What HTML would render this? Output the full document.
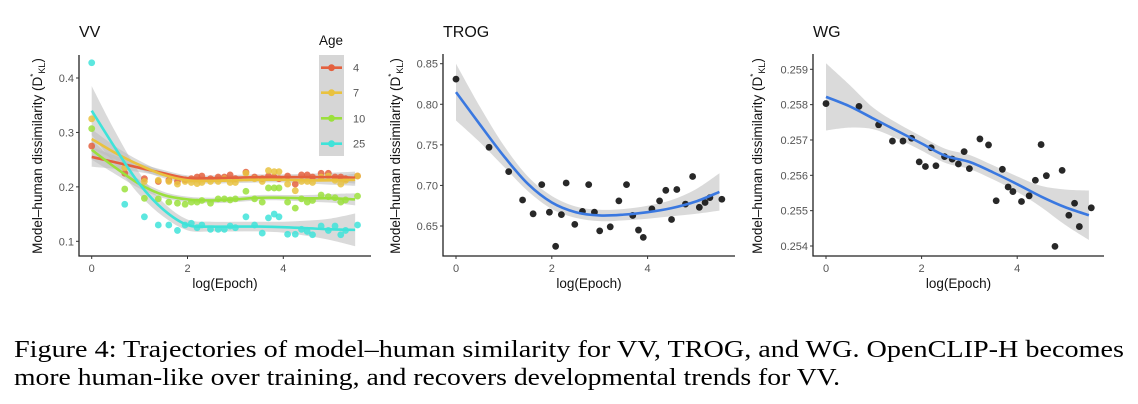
<!DOCTYPE html>
<html><head><meta charset="utf-8"><style>
html,body{margin:0;padding:0;background:#fff;}
svg{display:block;font-family:"Liberation Sans",sans-serif;}
.tick{font-size:11px;fill:#555;}
.ttl{font-size:16px;fill:#111;}
.axt{font-size:13.5px;fill:#111;}
</style></head><body>
<svg id="fig" width="1138" height="404" viewBox="0 0 1138 404">
<g id="p1"></g>
<g id="p2"></g>
<g id="p3"></g>
<text id="cap1" x="14" y="357" font-family="Liberation Serif, serif" font-size="24" textLength="1110" lengthAdjust="spacingAndGlyphs">Figure 4: Trajectories of model–human similarity for VV, TROG, and WG. OpenCLIP-H becomes</text>
<text id="cap2" x="14" y="385" font-family="Liberation Serif, serif" font-size="24" textLength="826" lengthAdjust="spacingAndGlyphs">more human-like over training, and recovers developmental trends for VV.</text>
</svg>
<script>
const NS="http://www.w3.org/2000/svg";
// shared x grid (log epoch)
const xs=[0,0.69,1.10,1.39,1.61,1.79,1.95,2.08,2.20,2.30,2.48,2.64,2.77,2.89,3.00,3.22,3.40,3.56,3.69,3.81,3.91,4.09,4.25,4.38,4.50,4.61,4.79,4.94,5.08,5.20,5.30,5.55];
const fitX=[0,0.5,1,1.5,2,2.5,3,3.5,4,4.5,5,5.5];
// VV
const vvAges=["4","7","10","25"];
const vvColors=["#e4603e","#e9c23f","#9be03c","#3fe3d9"];
const vv4=[0.275,0.225,0.215,0.210,0.212,0.210,0.213,0.215,0.218,0.220,0.215,0.218,0.218,0.222,0.215,0.227,0.218,0.215,0.220,0.218,0.215,0.220,0.205,0.222,0.222,0.218,0.225,0.225,0.218,0.218,0.215,0.220];
const vv7=[0.325,0.235,0.210,0.212,0.210,0.205,0.210,0.208,0.206,0.208,0.210,0.210,0.215,0.208,0.208,0.225,0.215,0.210,0.230,0.228,0.228,0.205,0.193,0.210,0.210,0.208,0.218,0.220,0.212,0.205,0.212,0.220];
const vv10=[0.307,0.196,0.179,0.178,0.172,0.170,0.168,0.172,0.172,0.175,0.170,0.178,0.178,0.176,0.178,0.192,0.178,0.172,0.198,0.198,0.198,0.172,0.161,0.178,0.172,0.175,0.185,0.182,0.180,0.172,0.176,0.183];
const vv25=[0.428,0.168,0.145,0.130,0.130,0.120,0.130,0.133,0.125,0.130,0.122,0.122,0.122,0.128,0.125,0.145,0.130,0.115,0.143,0.150,0.145,0.113,0.113,0.122,0.118,0.112,0.128,0.120,0.128,0.112,0.120,0.130];
const vvFit4=[0.255,0.245,0.235,0.225,0.216,0.216,0.217,0.218,0.218,0.218,0.218,0.217];
const vvFit7=[0.288,0.262,0.240,0.222,0.212,0.211,0.212,0.213,0.213,0.212,0.212,0.213];
const vvFit10=[0.268,0.235,0.205,0.185,0.177,0.175,0.177,0.180,0.180,0.179,0.179,0.177];
const vvFit25=[0.340,0.270,0.205,0.158,0.130,0.127,0.127,0.127,0.126,0.124,0.122,0.121];
const vvSe=[0.018,0.012,0.008,0.006,0.005,0.005,0.005,0.005,0.005,0.006,0.008,0.011];
const vvSe25=[0.045,0.03,0.02,0.013,0.01,0.009,0.009,0.009,0.01,0.014,0.02,0.03];
const vvTicksY=[0.1,0.2,0.3,0.4];
// TROG
const trogY=[0.831,0.747,0.717,0.682,0.665,0.701,0.667,0.625,0.664,0.703,0.652,0.668,0.701,0.667,0.644,0.649,0.681,0.701,0.663,0.645,0.636,0.671,0.681,0.694,0.658,0.695,0.677,0.711,0.673,0.679,0.685,0.683];
const trogFit=[0.815,0.775,0.736,0.702,0.679,0.667,0.663,0.664,0.667,0.672,0.680,0.692];
const trogSe=[0.035,0.022,0.013,0.009,0.008,0.007,0.007,0.007,0.008,0.010,0.015,0.023];
const trogTicksY=[0.65,0.70,0.75,0.80,0.85];
// WG
const wgY=[0.25803,0.25795,0.25743,0.25697,0.25697,0.25705,0.25638,0.25625,0.25678,0.25627,0.25653,0.25646,0.25632,0.25667,0.25619,0.25703,0.25686,0.25528,0.25617,0.25567,0.25554,0.25526,0.25542,0.25586,0.25687,0.25599,0.25399,0.25614,0.25487,0.25521,0.25455,0.25508];
const wgFit=[0.25822,0.25795,0.25760,0.25725,0.25690,0.25655,0.25638,0.25608,0.25575,0.25540,0.25510,0.25487];
const wgSe=[0.00095,0.0006,0.0003,0.00022,0.0002,0.0002,0.0002,0.0002,0.00022,0.0003,0.0005,0.0007];
const wgTicksY=[0.254,0.255,0.256,0.257,0.258,0.259];
const ticksX=[0,2,4];

function el(tag,attrs,parent){const e=document.createElementNS(NS,tag);for(const k in attrs)e.setAttribute(k,attrs[k]);parent.appendChild(e);return e;}
function smooth(pts){let d="M"+pts[0][0]+","+pts[0][1];for(let i=0;i<pts.length-1;i++){const p0=pts[Math.max(0,i-1)],p1=pts[i],p2=pts[i+1],p3=pts[Math.min(pts.length-1,i+2)];d+=" C"+(p1[0]+(p2[0]-p0[0])/6)+","+(p1[1]+(p2[1]-p0[1])/6)+" "+(p2[0]-(p3[0]-p1[0])/6)+","+(p2[1]-(p3[1]-p1[1])/6)+" "+p2[0]+","+p2[1];}return d;}
function band(fx,fit,se,X,Y){const up=fx.map((x,i)=>[X(x),Y(fit[i]+se[i])]);const lo=fx.map((x,i)=>[X(x),Y(fit[i]-se[i])]).reverse();return smooth(up)+" L"+smooth(lo).slice(1)+" Z";}

function panel(g,cfg){
  const X=v=>cfg.x0+v*cfg.ux;
  const Y=v=>cfg.yA+(v-cfg.vA)*(cfg.yB-cfg.yA)/(cfg.vB-cfg.vA);
  const t=el("text",{x:cfg.axX,y:37,class:"ttl"},g);t.textContent=cfg.title;
  
  
  const ax=el("path",{d:`M${cfg.axX},${cfg.top} V256 H${cfg.right}`,stroke:"#222","stroke-width":1.3,fill:"none"},g);
  
  
  cfg.ticksY.forEach(v=>{
    const yy=Y(v);
    el("line",{x1:cfg.axX-3,x2:cfg.axX,y1:yy,y2:yy,stroke:"#333"},g);
    const tl=el("text",{x:cfg.axX-5,y:yy+4,class:"tick","text-anchor":"end"},g);
    tl.textContent=cfg.fmt(v);
    
    
  });
  ticksX.forEach(v=>{
    const xx=X(v);
    el("line",{x1:xx,x2:xx,y1:256,y2:259,stroke:"#333"},g);
    const tl=el("text",{x:xx,y:272,class:"tick","text-anchor":"middle"},g);
    tl.textContent=v;
    
    
  });
  const xt=el("text",{x:(cfg.axX+cfg.right)/2,y:288,class:"axt","text-anchor":"middle"},g);
  xt.textContent="log(Epoch)";
  
  
  const yt=el("text",{transform:`translate(${cfg.ytX},156) rotate(-90)`,class:"axt","text-anchor":"middle"},g);
  yt.innerHTML='Model–human dissimilarity (D<tspan dy="-6" font-size="8">*</tspan><tspan dy="9" font-size="9">KL</tspan><tspan dy="-3">)</tspan>';
  
  
  cfg.series.forEach(s=>{
    const b=el("path",{d:band(fitX,s.fit,s.se,X,Y),fill:"#bbb","fill-opacity":0.55},g);
    
    
  });
  cfg.series.forEach(s=>{
    s.ys.forEach((v,i)=>{
      const c=el("circle",{cx:X(xs[i]),cy:Y(v),r:3.4,fill:s.pt,"fill-opacity":s.op},g);
      
      
    });
  });
  cfg.series.forEach(s=>{
    const l=el("path",{d:smooth(fitX.map((x,i)=>[X(x),Y(s.fit[i])])),stroke:s.line,"stroke-width":2.6,fill:"none"},g);
    
    
  });
}
panel(document.getElementById("p1"),{title:"VV",axX:79,top:55,right:371,x0:91.7,ux:47.9,yA:78,vA:0.4,yB:241.3,vB:0.1,ticksY:vvTicksY,fmt:v=>v.toFixed(1),ytX:42,
 series:[{ys:vv4,fit:vvFit4,se:vvSe,pt:vvColors[0],line:vvColors[0],op:0.85},{ys:vv7,fit:vvFit7,se:vvSe,pt:vvColors[1],line:vvColors[1],op:0.85},{ys:vv10,fit:vvFit10,se:vvSe,pt:vvColors[2],line:vvColors[2],op:0.85},{ys:vv25,fit:vvFit25,se:vvSe25,pt:vvColors[3],line:vvColors[3],op:0.85}]});
panel(document.getElementById("p2"),{title:"TROG",axX:443,top:54,right:735,x0:456,ux:47.9,yA:63.7,vA:0.85,yB:226,vB:0.65,ticksY:trogTicksY,fmt:v=>v.toFixed(2),ytX:400,
 series:[{ys:trogY,fit:trogFit,se:trogSe,pt:"#111",line:"#3a78e0",op:0.9}]});
panel(document.getElementById("p3"),{title:"WG",axX:813,top:54,right:1104,x0:826,ux:47.8,yA:69.3,vA:0.259,yB:246,vB:0.254,ticksY:wgTicksY,fmt:v=>v.toFixed(3),ytX:762,
 series:[{ys:wgY,fit:wgFit,se:wgSe,pt:"#111",line:"#3a78e0",op:0.9}]});
// legend
const p1=document.getElementById("p1");
const lt=el("text",{x:319,y:45,class:"axt"},p1);lt.textContent="Age";


const lb=el("rect",{x:319,y:55,width:25,height:101,fill:"#d6d6d6"},p1);


const legY=[67.7,92.7,118.3,143.7];
vvAges.forEach((a,i)=>{
  const g=el("g",{},p1);
  
  
  el("line",{x1:321,x2:342,y1:legY[i],y2:legY[i],stroke:vvColors[i],"stroke-width":2.6},g);
  el("circle",{cx:331.5,cy:legY[i],r:3.4,fill:vvColors[i]},g);
  const t=el("text",{x:353,y:legY[i]+4,class:"tick",fill:"#222"},g);t.textContent=a;
});
</script>
</body></html>
